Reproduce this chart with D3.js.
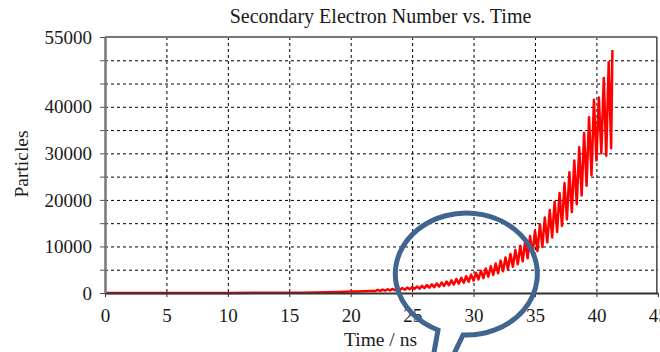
<!DOCTYPE html>
<html lang="en">
<head>
  <meta charset="UTF-8">
  <title>Secondary Electron Number vs. Time</title>
  <script src="https://d3js.org/d3.v7.min.js"></script>
  <style>
    body { margin: 0; background: #fff; }
    svg { display: block; }
    .grid line { stroke: #000; stroke-dasharray: 3,3; stroke-width: 1; }
    .grid path { display: none; }
  </style>
</head>
<body>
  <div id="chart"></div>
  <script>
    const SERIF = "'Liberation Serif', 'Times New Roman', serif";

    // time in ns, particle count (peaks and troughs of the oscillation)
    const times = [
      0, 5, 10, 15, 16, 17, 18, 19, 20, 20.5, 21, 21.5,
      22.0, 22.2, 22.4, 22.6, 22.8, 23.0, 23.2, 23.4, 23.6, 23.8,
      24.0, 24.2, 24.4, 24.6, 24.8, 25.0, 25.2, 25.4, 25.6, 25.8,
      26.0, 26.2, 26.4, 26.6, 26.8, 27.0, 27.2, 27.4, 27.6, 27.8,
      28.0, 28.2, 28.4, 28.6, 28.8, 29.0, 29.2, 29.4, 29.6, 29.8,
      30.0, 30.2, 30.4, 30.6, 30.8, 31.0, 31.2, 31.4, 31.6, 31.8,
      32.0, 32.2, 32.4, 32.6, 32.8, 33.0, 33.2, 33.4, 33.6, 33.8,
      34.0, 34.2, 34.4, 34.6, 34.8, 35.0, 35.2, 35.4, 35.6, 35.8,
      36.0, 36.2, 36.4, 36.6, 36.8, 37.0, 37.2, 37.4, 37.6, 37.8,
      38.0, 38.2, 38.4, 38.6, 38.8, 39.0, 39.2, 39.4, 39.6, 39.8,
      40.0, 40.2, 40.4, 40.6, 40.8, 41.0, 41.2, 41.3
    ];
    const particles = [
      20, 20, 20, 40, 80, 130, 170, 230, 300, 330, 380, 420,
      405, 664, 445, 730, 488, 800, 537, 880, 589, 966,
      647, 1061, 711, 1166, 782, 1281, 859, 1407, 943, 1546,
      1036, 1698, 1138, 1865, 1250, 2050, 1374, 2251, 1509, 2473,
      1658, 2717, 1821, 2985, 2000, 3279, 2197, 3603, 2414, 3958,
      2652, 4348, 2913, 4776, 3200, 5247, 3516, 5765, 3863, 6332,
      4243, 6956, 4661, 7642, 5121, 8395, 5625, 9222, 6180, 10131,
      6789, 11130, 7458, 12227, 8193, 13431, 9000, 14753, 9887, 16209,
      10862, 17807, 11932, 19561, 13109, 21490, 14400, 23607, 15820, 25935,
      17378, 28489, 19091, 31297, 20973, 34383, 23040, 37770, 25311, 41493,
      28500, 42000, 30000, 46200, 29500, 49600, 31100, 52200
    ];

    const xTicks = [0, 5, 10, 15, 20, 25, 30, 35, 40, 45];
    const yTicks = [0, 5000, 10000, 15000, 20000, 25000, 30000, 35000, 40000, 45000, 50000, 55000];
    const yLabelTicks = [0, 10000, 20000, 30000, 40000, 55000];

    const W = 660, H = 352;
    const margin = {top: 37, right: 4, bottom: 59, left: 105};
    const width = W - margin.left - margin.right,
          height = H - margin.top - margin.bottom;

    const svg = d3.select("#chart").append("svg")
      .attr("width", W).attr("height", H)
      .style("font-family", SERIF);

    const g = svg.append("g")
      .attr("transform", `translate(${margin.left},${margin.top})`);

    const x = d3.scaleLinear().domain([0, 45]).range([0, width * 45 / 44.85]);
    const y = d3.scaleLinear().domain([0, 55000]).range([height, 0]);

    // dashed grid
    g.append("g").attr("class", "grid")
      .call(d3.axisLeft(y).tickValues(yTicks.slice(1, -1)).tickSize(-x(45)).tickFormat(""));
    g.append("g").attr("class", "grid")
      .call(d3.axisBottom(x).tickValues(xTicks.slice(1, -1)).tickSize(height).tickFormat(""))
      .selectAll("line").attr("y1", 0).attr("y2", height);

    // frame
    g.append("line").attr("x1", 0).attr("x2", x(45) - 1).attr("y1", 0).attr("y2", 0)
      .attr("stroke", "#777").attr("stroke-width", 2);
    g.append("line").attr("x1", x(45) - 1).attr("x2", x(45) - 1).attr("y1", 0).attr("y2", height)
      .attr("stroke", "#444").attr("stroke-width", 1.5);

    // data line
    const pts = times.map((t, i) => [t, particles[i]]);
    g.append("path")
      .datum(pts)
      .attr("fill", "none")
      .attr("stroke", "#ff0000")
      .attr("stroke-width", 2.5)
      .attr("stroke-linejoin", "round")
      .attr("d", d3.line().x(d => x(d[0])).y(d => y(d[1])));

    // axes
    const xAxis = g.append("g")
      .attr("transform", `translate(0,${height})`)
      .call(d3.axisBottom(x).tickValues(xTicks).tickSize(4).tickPadding(12).tickSizeOuter(0));
    xAxis.select(".domain").attr("stroke", "#333").attr("stroke-width", 2);
    xAxis.selectAll("line").attr("stroke", "#333");

    const yAxis = g.append("g")
      .call(d3.axisLeft(y).tickValues(yTicks).tickSize(5).tickPadding(8).tickSizeOuter(0)
        .tickFormat(d => yLabelTicks.includes(d) ? d : ""));
    yAxis.select(".domain").attr("stroke", "#777").attr("stroke-width", 2.5);
    yAxis.selectAll("line").attr("stroke", "#555");

    [xAxis, yAxis].forEach(a => {
      a.attr("font-family", SERIF).attr("font-size", 19);
      a.selectAll("text").style("font-family", SERIF).attr("fill", "#1a1a1a");
    });

    // titles
    svg.append("text")
      .attr("x", margin.left + width / 2).attr("y", 23)
      .attr("text-anchor", "middle").attr("font-size", 20).attr("fill", "#1a1a1a")
      .text("Secondary Electron Number vs. Time");
    svg.append("text")
      .attr("x", margin.left + width / 2).attr("y", 346)
      .attr("text-anchor", "middle").attr("font-size", 19.5).attr("fill", "#1a1a1a")
      .text("Time / ns");
    svg.append("text")
      .attr("transform", "translate(28,164) rotate(-90)")
      .attr("text-anchor", "middle").attr("font-size", 19.5).attr("fill", "#1a1a1a")
      .text("Particles");

    // speech-bubble annotation
    svg.append("path")
      .attr("d", "M 433 358 L 438 330 A 71 61 0 1 1 463 335 L 452 358")
      .attr("fill", "none")
      .attr("stroke", "#41658f")
      .attr("stroke-width", 5);
  </script>
</body>
</html>
